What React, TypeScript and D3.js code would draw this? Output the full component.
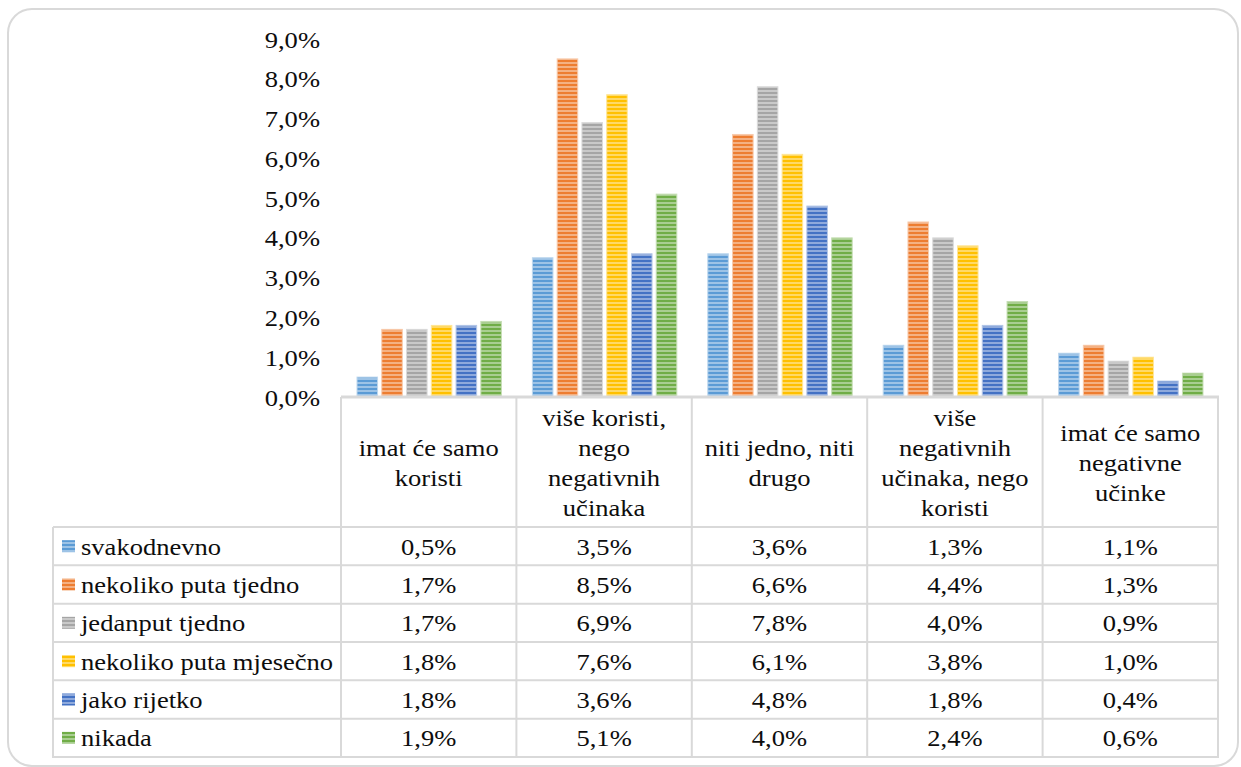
import React from "react";
import * as d3 from "d3";

const categories = [
  "imat će samo koristi",
  "više koristi, nego negativnih učinaka",
  "niti jedno, niti drugo",
  "više negativnih učinaka, nego koristi",
  "imat će samo negativne učinke",
];
const categoryLines = [
  ["imat će samo", "koristi"],
  ["više koristi,", "nego", "negativnih", "učinaka"],
  ["niti jedno, niti", "drugo"],
  ["više", "negativnih", "učinaka, nego", "koristi"],
  ["imat će samo", "negativne", "učinke"],
];
const seriesNames = [
  "svakodnevno",
  "nekoliko puta tjedno",
  "jedanput tjedno",
  "nekoliko puta mjesečno",
  "jako rijetko",
  "nikada",
];
const svakodnevno = [0.5, 3.5, 3.6, 1.3, 1.1];
const nekolikoPutaTjedno = [1.7, 8.5, 6.6, 4.4, 1.3];
const jedanputTjedno = [1.7, 6.9, 7.8, 4.0, 0.9];
const nekolikoPutaMjesecno = [1.8, 7.6, 6.1, 3.8, 1.0];
const jakoRijetko = [1.8, 3.6, 4.8, 1.8, 0.4];
const nikada = [1.9, 5.1, 4.0, 2.4, 0.6];
const seriesValues = [svakodnevno, nekolikoPutaTjedno, jedanputTjedno, nekolikoPutaMjesecno, jakoRijetko, nikada];
const yTicks = [0, 1, 2, 3, 4, 5, 6, 7, 8, 9];

const colors = ["#5B9BD5", "#ED7D31", "#A5A5A5", "#FFC000", "#4472C4", "#70AD47"];

const FONT = "Liberation Serif";
const FS = 23.5;
const SX = 1.13;
const LINE = "#d9d9d9";

const fmt = (v: number) => v.toFixed(1).replace(".", ",") + "%";

function T({ x, y, anchor, children }: { x: number; y: number; anchor: string; children: React.ReactNode }) {
  return (
    <text
      transform={`translate(${x},${y}) scale(${SX},1)`}
      textAnchor={anchor as any}
      style={{ fontFamily: FONT, fontSize: FS }}
      fill="#0d0d0d"
    >
      {children}
    </text>
  );
}

export default function App() {
  const W = 1241;
  const H = 767;
  const tableLeft = 53;
  const plotLeft = 341;
  const plotRight = 1218;
  const axisY = 397;
  const headerBottom = 527;
  const tableBottom = 757;

  const x0 = d3.scaleBand<string>().domain(categories).range([plotLeft, plotRight]).paddingInner(0).paddingOuter(0);
  const x1 = d3.scaleBand<string>().domain(seriesNames).range([16, x0.bandwidth() - 15]).paddingInner(0.17).paddingOuter(0);
  const y = d3.scaleLinear().domain([0, 9]).range([axisY, 39]);

  const rowH = (tableBottom - headerBottom) / seriesNames.length;
  const rowYs = d3.range(seriesNames.length + 1).map((i) => headerBottom + i * rowH);
  const colXs = categories.map((c) => x0(c) as number).concat([plotRight]);

  return (
    <svg
      width={W}
      height={H}
      style={{ position: "absolute", left: 0, top: 0, display: "block", background: "#fff" }}
    >
      <defs>
        {colors.map((c, i) => {
          const light = d3.interpolateRgb(c, "#ffffff")(0.4);
          return (
            <pattern key={i} id={`stripe${i}`} patternUnits="userSpaceOnUse" width={8} height={4}>
              <rect x={0} y={0} width={8} height={4} fill={c} />
              <rect x={0} y={2} width={8} height={2} fill={light} />
            </pattern>
          );
        })}
      </defs>

      <rect x={8} y={9} width={1230} height={757} rx={24} ry={24} fill="#fff" stroke={LINE} strokeWidth={2} />

      {/* y tick labels */}
      {yTicks.map((t) => (
        <T key={t} x={320} y={y(t) + 8.5} anchor="end">
          {fmt(t)}
        </T>
      ))}

      {/* bars */}
      {categories.map((c, ci) => (
        <g key={c} transform={`translate(${x0(c)},0)`}>
          {seriesNames.map((s, si) => {
            const v = seriesValues[si][ci];
            const light = d3.interpolateRgb(colors[si], "#ffffff")(0.6);
            return (
              <rect
                key={s}
                x={x1(s)}
                y={y(v)}
                width={x1.bandwidth()}
                height={axisY - y(v)}
                fill={`url(#stripe${si})`}
                stroke={light}
                strokeWidth={1}
              />
            );
          })}
        </g>
      ))}

      {/* table lines */}
      <line x1={plotLeft} x2={plotRight + 1} y1={axisY} y2={axisY} stroke={LINE} strokeWidth={3} />
      {rowYs.map((ry, i) => (
        <line key={i} x1={tableLeft} x2={plotRight + 1} y1={ry} y2={ry} stroke={LINE} strokeWidth={2} />
      ))}
      {colXs.map((cx, i) => (
        <line key={i} x1={cx} x2={cx} y1={axisY} y2={tableBottom + 1} stroke={LINE} strokeWidth={2} />
      ))}
      <line x1={tableLeft} x2={tableLeft} y1={headerBottom} y2={tableBottom + 1} stroke={LINE} strokeWidth={2} />

      {/* header */}
      {categories.map((c, ci) => {
        const lines = categoryLines[ci];
        const cx = (x0(c) as number) + x0.bandwidth() / 2;
        const mid = (axisY + headerBottom) / 2;
        return lines.map((ln, li) => (
          <T key={c + li} x={cx} y={mid + (li - (lines.length - 1) / 2) * 30 + 8.5} anchor="middle">
            {ln}
          </T>
        ));
      })}

      {/* rows */}
      {seriesNames.map((s, si) => {
        const top = rowYs[si];
        const mid = top + rowH / 2;
        return (
          <g key={s}>
            <rect x={62} y={mid - 6} width={13} height={12} fill={`url(#stripe${si})`} />
            <T x={81} y={mid + 8.5} anchor="start">
              {s}
            </T>
            {categories.map((c, ci) => (
              <T key={c} x={(x0(c) as number) + x0.bandwidth() / 2} y={mid + 8.5} anchor="middle">
                {fmt(seriesValues[si][ci])}
              </T>
            ))}
          </g>
        );
      })}
    </svg>
  );
}
